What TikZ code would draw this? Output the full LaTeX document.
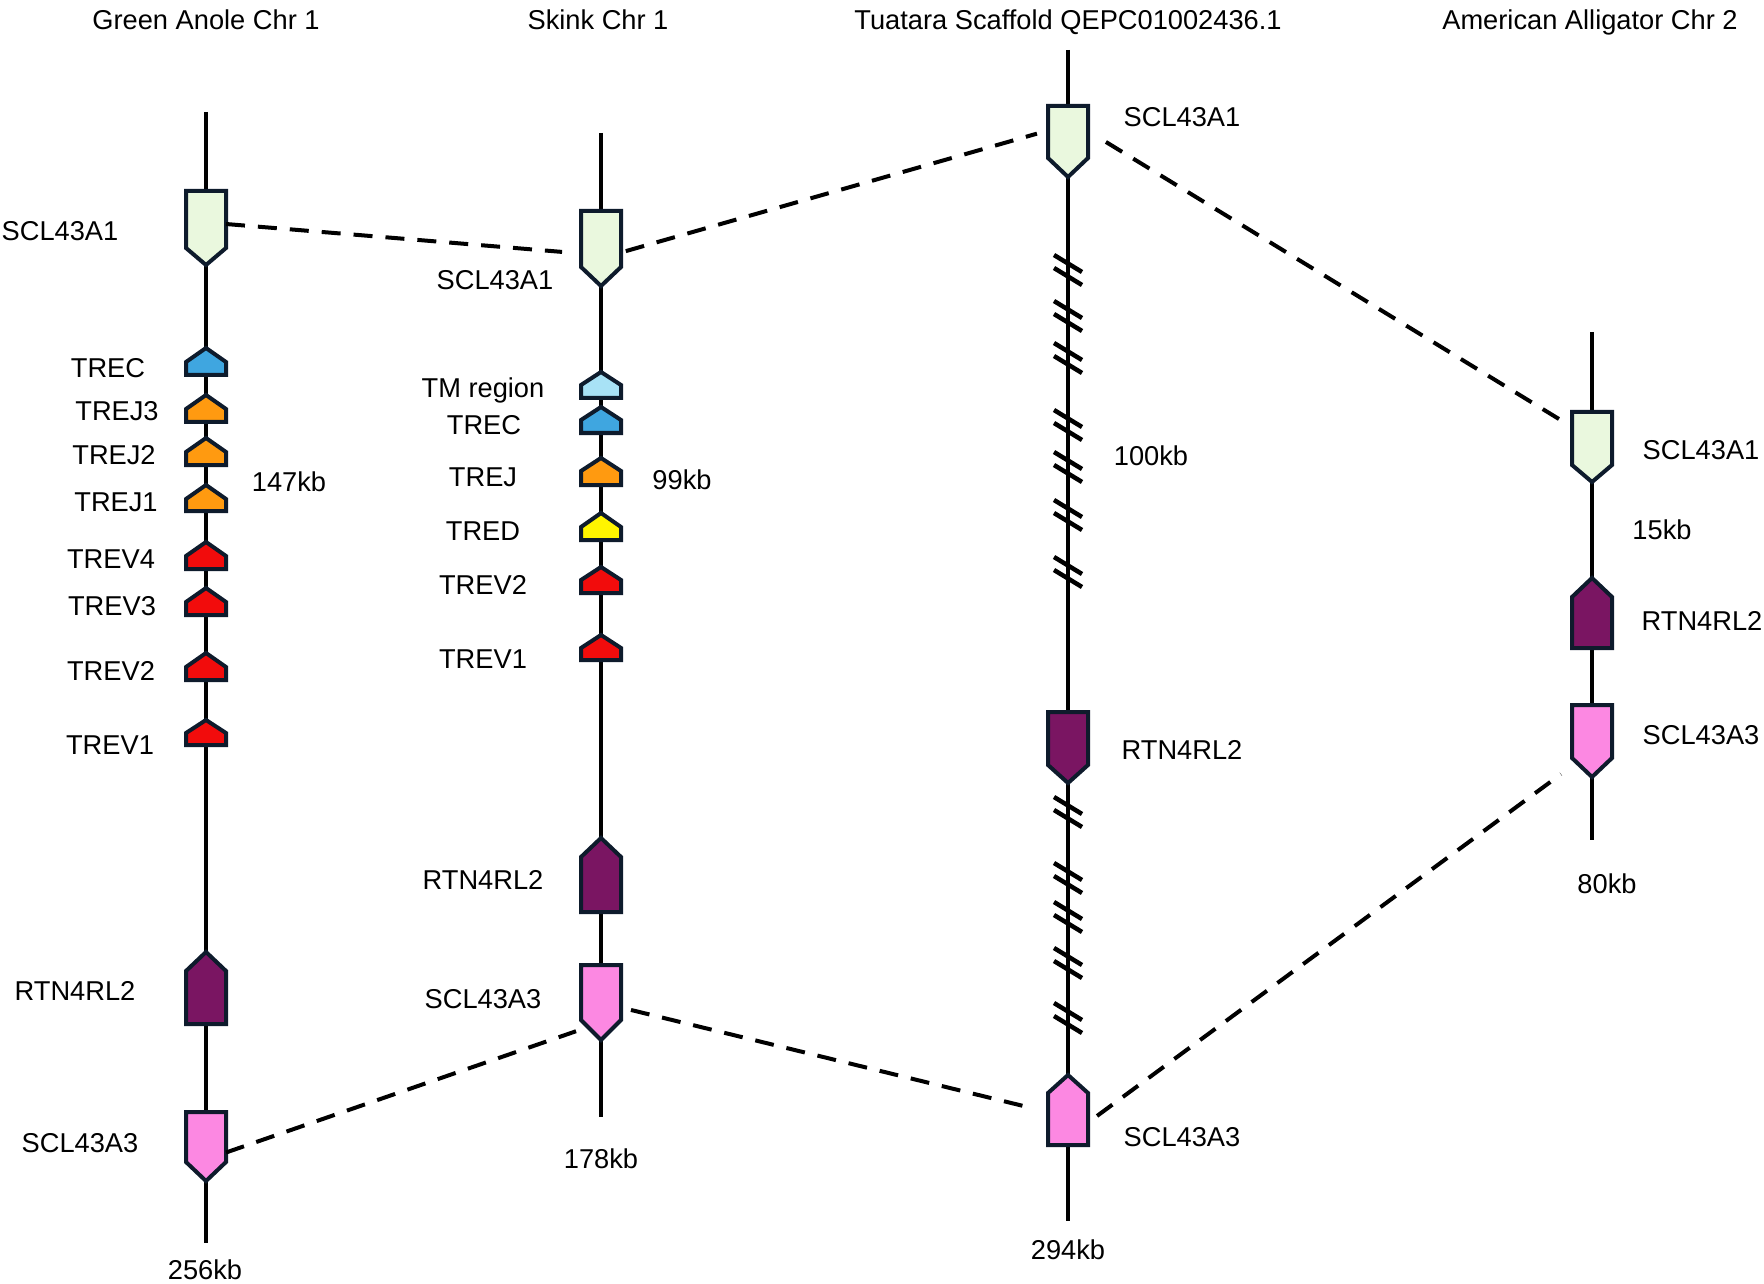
\documentclass[tikz,border=0pt]{standalone}
\usepackage{fontspec}
\setmainfont{Liberation Sans}
\usetikzlibrary{calc,fit}
\definecolor{outl}{HTML}{0E1B2C}
\definecolor{cA1}{HTML}{EAF8DE}
\definecolor{cTREC}{HTML}{3FA6E0}
\definecolor{cTM}{HTML}{A8E2F6}
\definecolor{cTREJ}{HTML}{FF9A10}
\definecolor{cTRED}{HTML}{FFF500}
\definecolor{cTREV}{HTML}{F20C0C}
\definecolor{cRTN}{HTML}{7A1562}
\definecolor{cA3}{HTML}{FC88E2}
% down-pointing gene: name, x, top, shoulder, tip, colour
\newcommand\gdn[6]{%
  \draw[gene, fill=#6] (#2-20,#3) -- (#2+20,#3) -- (#2+20,#4) -- (#2,#5) -- (#2-20,#4) -- cycle;
  \node[hold, fit={(#2-20,#3) (#2+20,#5)}] (#1) {};}
% up-pointing gene: name, x, tip, shoulder, bottom, colour
\newcommand\gup[6]{%
  \draw[gene, fill=#6] (#2,#3) -- (#2+20,#4) -- (#2+20,#5) -- (#2-20,#5) -- (#2-20,#4) -- cycle;
  \node[hold, fit={(#2-20,#3) (#2+20,#5)}] (#1) {};}
% break mark pair: x, y centre
\newcommand\brkpair[2]{%
  \draw[brk] (#1-14,#2-15) -- (#1+14,#2+2);
  \draw[brk] (#1-14,#2-2) -- (#1+14,#2+15);}
\begin{document}
\begin{tikzpicture}[x=0.4pt,y=-0.4pt,
  font=\fontsize{10.9}{13}\selectfont,
  chrom/.style={line width=1.8pt, black},
  gene/.style={draw=outl, line width=1.6pt, line join=miter},
  hold/.style={inner sep=0pt, outer sep=0pt, draw=none},
  brk/.style={line width=1.8pt, black},
  link/.style={line width=1.6pt, dash pattern=on 7.6pt off 5.2pt},
  lbl/.style={inner sep=0pt, text height=7.8pt, text depth=0pt, anchor=center}]
\useasboundingbox (0,0) rectangle (1764,1284);

% ---------- titles ----------
\node[lbl] (t1) at (206,20) {Green Anole Chr 1};
\node[lbl] (t2) at (598,20) {Skink Chr 1};
\node[lbl] (t3) at (1068,20) {Tuatara Scaffold QEPC01002436.1};
\node[lbl] (t4) at (1590,20) {American Alligator Chr 2};

% ---------- chromosome lines ----------
\coordinate (anT) at (206,112); \coordinate (anB) at (206,1243);
\coordinate (skT) at (601,133); \coordinate (skB) at (601,1117);
\coordinate (tuT) at (1068,50); \coordinate (tuB) at (1068,1221);
\coordinate (alT) at (1592,332); \coordinate (alB) at (1592,840);
\draw[chrom] (anT) -- (anB);
\draw[chrom] (skT) -- (skB);
\draw[chrom] (tuT) -- (tuB);
\draw[chrom] (alT) -- (alB);

% ---------- break marks (tuatara) ----------
\foreach \yy in {270,316,358,425,467,515,572,812,878,917,963,1018}
  {\brkpair{1068}{\yy}}

% ---------- Green anole genes ----------
\gdn{anA1}{206}{191}{248}{265}{cA1}
\gup{anTREC}{206}{348}{362}{375}{cTREC}
\gup{anJ3}{206}{395}{409}{422}{cTREJ}
\gup{anJ2}{206}{438}{452}{465}{cTREJ}
\gup{anJ1}{206}{485}{499}{511}{cTREJ}
\gup{anV4}{206}{542}{556}{569}{cTREV}
\gup{anV3}{206}{588}{602}{615}{cTREV}
\gup{anV2}{206}{653}{667}{680}{cTREV}
\gup{anV1}{206}{720}{733}{745}{cTREV}
\gup{anRTN}{206}{952}{971}{1024}{cRTN}
\gdn{anA3}{206}{1112}{1162}{1181}{cA3}

% ---------- Skink genes ----------
\gdn{skA1}{601}{211}{267}{286}{cA1}
\gup{skTM}{601}{372}{385}{398}{cTM}
\gup{skTREC}{601}{407}{420}{433}{cTREC}
\gup{skJ}{601}{458}{471}{485}{cTREJ}
\gup{skD}{601}{513}{527}{540}{cTRED}
\gup{skV2}{601}{567}{580}{593}{cTREV}
\gup{skV1}{601}{635}{648}{660}{cTREV}
\gup{skRTN}{601}{838}{857}{912}{cRTN}
\gdn{skA3}{601}{965}{1020}{1040}{cA3}

% ---------- Tuatara genes ----------
\gdn{tuA1}{1068}{106}{158}{177}{cA1}
\gdn{tuRTN}{1068}{712}{765}{783}{cRTN}
\gup{tuA3}{1068}{1075}{1093}{1145}{cA3}

% ---------- Alligator genes ----------
\gdn{alA1}{1592}{412}{465}{482}{cA1}
\gup{alRTN}{1592}{578}{597}{648}{cRTN}
\gdn{alA3}{1592}{705}{758}{777}{cA3}

% ---------- synteny links ----------
\draw[link, shorten >=7.6pt] ($(anA1.east)+(0,-4)$) -- ($(skA1.west)+(0,5)$);
\draw[link, shorten <=2pt, shorten >=4.6pt] ($(skA1.east)+(0,4)$) -- ($(tuA1.west)+(0,-11)$);
\draw[link, shorten <=8.4pt, shorten >=3.8pt] ($(tuA1.east)+(0,-10.5)$) -- ($(alA1.west)+(0,-20)$);
\draw[link, shorten >=2.1pt] ($(anA3.east)+(0,6)$) -- ($(skA3.west)+(0,27)$);
\draw[link, shorten <=4.1pt, shorten >=6.6pt] ($(skA3.east)+(0,5)$) -- ($(tuA3.west)+(0,2)$);
\draw[link, shorten <=4.5pt, shorten >=5.5pt] ($(tuA3.east)+(0,12.6)$) -- ($(alA3.west)+(0,25)$);

% ---------- labels: anole ----------
\node[lbl] (anlA1) at (60,231) {SCL43A1};
\node[lbl] (anlTREC) at (108,368) {TREC};
\node[lbl] (anlJ3) at (117,411) {TREJ3};
\node[lbl] (anlJ2) at (114,455) {TREJ2};
\node[lbl] (anlJ1) at (116,502) {TREJ1};
\node[lbl] (anlV4) at (111,559) {TREV4};
\node[lbl] (anlV3) at (112,606) {TREV3};
\node[lbl] (anlV2) at (111,671) {TREV2};
\node[lbl] (anlV1) at (110,745) {TREV1};
\node[lbl] (anl147) at (289,482) {147kb};
\node[lbl] (anlRTN) at (75,991) {RTN4RL2};
\node[lbl] (anlA3) at (80,1143) {SCL43A3};
\node[lbl] (anl256) at (205,1270) {256kb};

% ---------- labels: skink ----------
\node[lbl] (sklA1) at (495,280) {SCL43A1};
\node[lbl] (sklTM) at (483,388) {TM region};
\node[lbl] (sklTREC) at (484,425) {TREC};
\node[lbl] (sklJ) at (483,477) {TREJ};
\node[lbl] (sklD) at (483,531) {TRED};
\node[lbl] (sklV2) at (483,585) {TREV2};
\node[lbl] (sklV1) at (483,659) {TREV1};
\node[lbl] (skl99) at (682,480) {99kb};
\node[lbl] (sklRTN) at (483,880) {RTN4RL2};
\node[lbl] (sklA3) at (483,999) {SCL43A3};
\node[lbl] (skl178) at (601,1159) {178kb};

% ---------- labels: tuatara ----------
\node[lbl] (tulA1) at (1182,117) {SCL43A1};
\node[lbl] (tul100) at (1151,456) {100kb};
\node[lbl] (tulRTN) at (1182,750) {RTN4RL2};
\node[lbl] (tulA3) at (1182,1137) {SCL43A3};
\node[lbl] (tul294) at (1068,1250) {294kb};

% ---------- labels: alligator ----------
\node[lbl] (allA1) at (1701,450) {SCL43A1};
\node[lbl] (all15) at (1662,530) {15kb};
\node[lbl] (allRTN) at (1702,621) {RTN4RL2};
\node[lbl] (allA3) at (1701,735) {SCL43A3};
\node[lbl] (all80) at (1607,884) {80kb};
\end{tikzpicture}
\end{document}
